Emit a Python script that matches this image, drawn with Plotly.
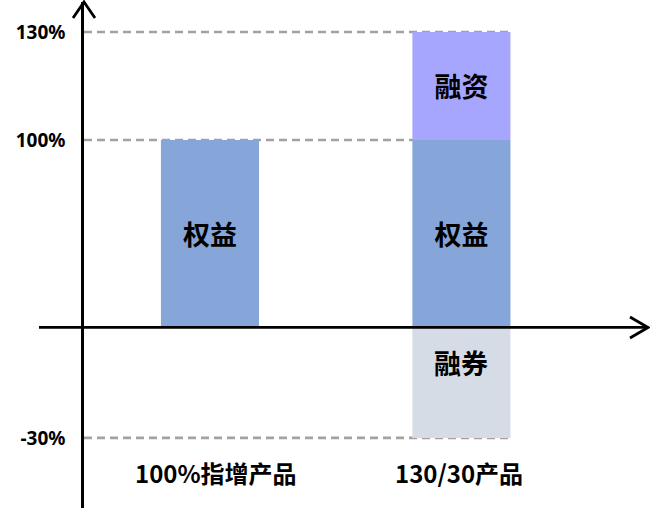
import plotly.graph_objects as go

# Data (the reference draws a schematic, not-to-scale vertical axis; values are drawn heights, 100 = "100%")
categories = ["100%指增产品", "130/30产品"]
equity = [100, 100]
financing = [None, 57.6]
short = [None, -58.9]
tick_labels = ["-30%", "100%", "130%"]
segment_names = ["权益", "融资", "融券"]

tick_values = [short[1], equity[1], equity[1] + financing[1]]

C_EQ = "#86A5D8"
C_FIN = "#A6A6FE"
C_SHORT = "#D6DCE5"
C_GRID = "#A5A1A1"
FONT = "Noto Sans CJK SC, Noto Sans, sans-serif"
TICK_FONT = "Noto Sans, Open Sans, sans-serif"
BAR_W = 0.39

YMIN, YMAX = -96.3, 173.6
XMIN, XMAX = -0.501, 1.742

fig = go.Figure()
fig.add_trace(go.Bar(x=categories, y=equity, name=segment_names[0], marker=dict(color=C_EQ, line=dict(width=0)),
                     width=BAR_W, text=[segment_names[0]] * 2, textposition="inside",
                     insidetextanchor="middle", textfont=dict(family=FONT, size=27, color="black", weight="bold"),
                     hoverinfo="skip"))
fig.add_trace(go.Bar(x=categories, y=financing, name=segment_names[1], marker=dict(color=C_FIN, line=dict(width=0)),
                     width=BAR_W, text=["", segment_names[1]], textposition="inside",
                     insidetextanchor="middle", textfont=dict(family=FONT, size=27, color="black", weight="bold"),
                     hoverinfo="skip"))
fig.add_trace(go.Bar(x=categories, y=short, name=segment_names[2], marker=dict(color=C_SHORT, line=dict(width=0)),
                     width=BAR_W, hoverinfo="skip"))

# 融券 label (sits in the upper part of the short bar)
fig.add_annotation(x=categories[1], y=-18.5, text=segment_names[2], showarrow=False,
                   font=dict(family=FONT, size=27, color="black", weight="bold"))

# dashed reference lines from the y axis to the right edge of the 130/30 bar
for tv in tick_values:
    fig.add_shape(type="line", xref="x", yref="y", x0=XMIN, x1=1 + BAR_W / 2, y0=tv, y1=tv,
                  line=dict(color=C_GRID, width=2.7, dash="8px,5px"), layer="below")

# category labels
for c, xs in zip(categories, [6, -2]):
    fig.add_annotation(x=c, y=-77.3, text=c, showarrow=False, xshift=xs,
                       font=dict(family=FONT, size=24, color="black", weight="bold"))

# x axis line (extends left of the y axis) and arrowheads
zero_paper = (0 - YMIN) / (YMAX - YMIN)
fig.add_shape(type="line", xref="paper", yref="paper", x0=-45 / 564, x1=1, y0=zero_paper, y1=zero_paper,
              line=dict(color="black", width=2.8), layer="above")
fig.add_shape(type="path", xref="paper", yref="paper", xsizemode="pixel", ysizemode="pixel",
              xanchor=1, yanchor=zero_paper, path="M-18,10.5 L0,0 L-18,-10.5",
              line=dict(color="black", width=2.8))
fig.add_shape(type="path", xref="paper", yref="paper", xsizemode="pixel", ysizemode="pixel",
              xanchor=0, yanchor=1, path="M-11,-16 L0,0 L11,-16",
              line=dict(color="black", width=2.8))

fig.update_layout(
    width=650, height=509,
    margin=dict(l=84, r=2, t=2, b=1),
    barmode="relative",
    showlegend=False,
    plot_bgcolor="white", paper_bgcolor="white",
    font=dict(family=FONT, color="black"),
    xaxis=dict(range=[XMIN, XMAX], showticklabels=False, showgrid=False, zeroline=False,
               showline=False, ticks=""),
    yaxis=dict(range=[YMIN, YMAX], tickvals=tick_values, ticktext=tick_labels,
               tickfont=dict(family=TICK_FONT, size=19, color="black", weight="bold"), showgrid=False, zeroline=False,
               showline=True, linecolor="black", linewidth=2.5, ticks="", ticklabelstandoff=12),
)

fig.write_html("out.html", config={"displayModeBar": False},
               post_script="document.body.style.margin='0px';document.body.style.overflow='hidden';")
